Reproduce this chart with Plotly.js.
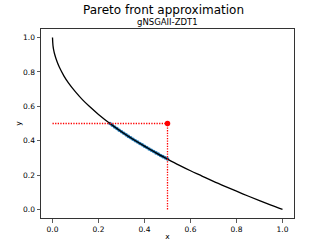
<!DOCTYPE html>
<html><head><meta charset="utf-8">
<script src="https://cdn.plot.ly/plotly-3.0.1.min.js"></script>
<style>html,body{margin:0;padding:0;background:#fff}#c{width:327px;height:245px}</style>
</head><body><div id="c"></div>
<script>
var frontX = [0, 0.002, 0.005, 0.01, 0.02, 0.03, 0.05, 0.07, 0.1, 0.13, 0.16, 0.2, 0.25, 0.3, 0.35, 0.4, 0.45, 0.5, 0.55, 0.6, 0.65, 0.7, 0.75, 0.8, 0.85, 0.9, 0.95, 1.0];
var frontY = [1, 0.955, 0.929, 0.9, 0.859, 0.827, 0.776, 0.735, 0.684, 0.639, 0.6, 0.553, 0.5, 0.452, 0.408, 0.368, 0.329, 0.293, 0.258, 0.225, 0.194, 0.163, 0.134, 0.106, 0.078, 0.051, 0.025, 0];
var solX = [0.25, 0.26, 0.27, 0.28, 0.29, 0.30, 0.31, 0.32, 0.33, 0.34, 0.35, 0.36, 0.37, 0.38, 0.39, 0.40, 0.41, 0.42, 0.43, 0.44, 0.45, 0.46, 0.47, 0.48, 0.49, 0.50];
var solY = [0.5, 0.490, 0.480, 0.471, 0.461, 0.452, 0.443, 0.434, 0.425, 0.417, 0.408, 0.400, 0.392, 0.384, 0.376, 0.368, 0.360, 0.352, 0.344, 0.337, 0.329, 0.322, 0.314, 0.307, 0.300, 0.293];
var refX = [0.5];
var refY = [0.5];
var hLineX = [0, 0.5], hLineY = [0.5, 0.5];
var vLineX = [0.5, 0.5], vLineY = [0, 0.5];
var ticks = [0, 0.2, 0.4, 0.6, 0.8, 1.0];
var tickText = ['0.0', '0.2', '0.4', '0.6', '0.8', '1.0'];

var F = 'DejaVu Sans, sans-serif';
var data = [
  {x: solX, y: solY, mode: 'markers', type: 'scatter', marker: {color: '#1f77b4', size: 3.6}, hoverinfo: 'none'},
  {x: frontX, y: frontY, mode: 'lines', type: 'scatter', line: {color: 'black', width: 1.3, shape: 'spline'}, hoverinfo: 'none'},
  {x: hLineX, y: hLineY, mode: 'lines', type: 'scatter', line: {color: '#ff0000', width: 1.3, dash: '1.3px,1.3px'}, hoverinfo: 'none'},
  {x: vLineX, y: vLineY, mode: 'lines', type: 'scatter', line: {color: '#ff0000', width: 1.3, dash: '1.3px,1.3px'}, hoverinfo: 'none'},
  {x: refX, y: refY, mode: 'markers', type: 'scatter', marker: {color: '#ff0000', size: 5.5}, hoverinfo: 'none'}
];
var axisCommon = {
  showgrid: false, zeroline: false, showline: true, mirror: true,
  linecolor: '#333', linewidth: 1, ticks: 'outside', ticklen: 3.5, tickwidth: 0.8, tickcolor: '#333',
  tickvals: ticks, ticktext: tickText, tickfont: {family: F, size: 7.5, color: '#000'}
};
var layout = {
  width: 327, height: 245,
  margin: {l: 41, r: 33, t: 29, b: 27},
  paper_bgcolor: 'white', plot_bgcolor: 'white',
  showlegend: false,
  title: {text: 'Pareto front approximation', font: {family: F, size: 12, color: 'black'}, x: 0.5, xanchor: 'center', y: 1 - 10/245, yanchor: 'middle'},
  annotations: [{text: 'gNSGAII-ZDT1', xref: 'paper', yref: 'paper', x: 0.5, y: 1, xanchor: 'center', yanchor: 'bottom', yshift: 0, showarrow: false, font: {family: F, size: 8.5, color: 'black'}}],
  xaxis: Object.assign({}, axisCommon, {range: [-0.05, 1.05], automargin: false, title: {text: 'x', font: {family: F, size: 7.5, color: '#000'}, standoff: 1}}),
  yaxis: Object.assign({}, axisCommon, {range: [-0.05, 1.05], automargin: false, title: {text: 'y', font: {family: F, size: 7.5, color: '#000'}, standoff: 0}})
};
Plotly.newPlot('c', data, layout, {staticPlot: true, displayModeBar: false});
</script></body></html>
